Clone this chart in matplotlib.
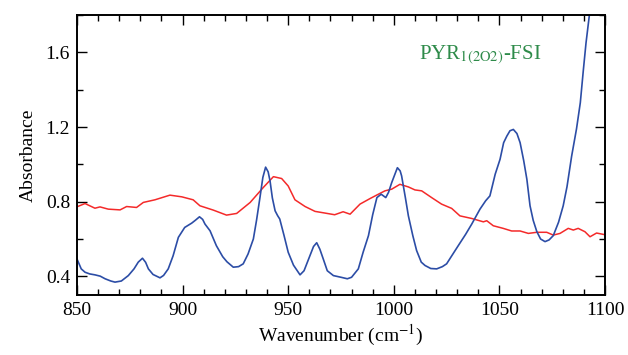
import numpy as np
import matplotlib
matplotlib.use("Agg")
import matplotlib.pyplot as plt
from matplotlib.ticker import MultipleLocator

plt.rcParams["font.family"] = ["Liberation Serif", "DejaVu Serif"]
plt.rcParams["mathtext.fontset"] = "stix"

BLUE_W = [850.0, 852.0, 853.8, 856.0, 858.5, 861.0, 863.3, 866.0, 868.0, 871.0,
          874.3, 877.0, 879.0, 881.0, 882.5, 883.8, 886.0, 889.3, 891.0, 893.2,
          895.5, 898.0, 901.0, 904.3, 906.0, 908.0, 909.5, 910.6, 913.0, 916.0,
          919.0, 921.0, 924.0, 926.5, 928.7, 931.0, 933.5, 935.0, 936.6, 938.0,
          939.3, 940.5, 941.4, 942.5, 943.8, 945.0, 946.0, 948.0, 950.0, 952.5,
          955.6, 957.5, 960.3, 962.0, 963.5, 965.0, 966.6, 968.5, 971.4, 975.0,
          978.0, 980.0, 983.2, 985.5, 988.0, 990.0, 992.0, 994.0, 996.2, 997.5,
          999.0, 1001.7, 1003.0, 1003.7, 1005.5, 1006.9, 1009.0, 1010.8, 1013.0,
          1014.8, 1017.5, 1020.3, 1023.0, 1025.0, 1028.0, 1030.5, 1034.0, 1036.9,
          1040.8, 1043.5, 1045.5, 1048.0, 1050.3, 1052.0, 1053.5, 1055.0, 1056.6,
          1058.3, 1059.8, 1061.5, 1063.0, 1064.5, 1066.0, 1067.7, 1069.5, 1071.6,
          1073.5, 1075.5, 1078.0, 1080.2, 1082.0, 1084.2, 1086.5, 1088.3, 1089.7,
          1091.0, 1092.6, 1094.0]
BLUE_A = [0.493, 0.440, 0.422, 0.413, 0.408, 0.401, 0.387, 0.375, 0.369, 0.375,
          0.404, 0.440, 0.476, 0.497, 0.475, 0.440, 0.410, 0.392, 0.405, 0.440,
          0.510, 0.609, 0.662, 0.685, 0.700, 0.719, 0.705, 0.680, 0.644, 0.564,
          0.505, 0.478, 0.449, 0.452, 0.467, 0.520, 0.600, 0.700, 0.820, 0.930,
          0.985, 0.960, 0.911, 0.820, 0.751, 0.725, 0.707, 0.620, 0.529, 0.460,
          0.408, 0.430, 0.511, 0.560, 0.580, 0.545, 0.493, 0.430, 0.404, 0.395,
          0.387, 0.395, 0.440, 0.530, 0.618, 0.730, 0.822, 0.840, 0.822, 0.850,
          0.902, 0.982, 0.965, 0.938, 0.820, 0.724, 0.618, 0.538, 0.476,
          0.458, 0.442, 0.440, 0.452, 0.467, 0.520, 0.564, 0.625, 0.680,
          0.760, 0.805, 0.831, 0.947, 1.027, 1.116, 1.151, 1.180, 1.187,
          1.165, 1.116, 1.020, 0.920, 0.778, 0.700, 0.640, 0.600, 0.586,
          0.595, 0.618, 0.690, 0.778, 0.880, 1.044, 1.190, 1.330, 1.500,
          1.650, 1.800, 1.950]

RED_W = [850.3, 853.8, 858.5, 860.9, 864.8, 870.4, 873.5, 878.2, 881.4, 886.9,
         894.0, 899.6, 905.0, 908.2, 914.5, 920.8, 925.6, 932.0, 938.2, 943.0,
         946.9, 950.0, 953.2, 958.0, 962.7, 967.4, 972.0, 976.0, 979.3, 984.0,
         988.8, 992.7, 995.8, 999.0, 1002.9, 1006.9, 1010.0, 1013.2, 1017.9,
         1022.6, 1027.4, 1031.3, 1036.9, 1042.4, 1044.0, 1047.1, 1051.8, 1055.8,
         1059.8, 1063.7, 1067.7, 1072.4, 1075.5, 1078.7, 1082.6, 1085.0, 1087.3,
         1090.5, 1092.9, 1096.0, 1100.0]
RED_A = [0.774, 0.790, 0.765, 0.772, 0.760, 0.756, 0.774, 0.769, 0.796, 0.810,
         0.835, 0.826, 0.810, 0.778, 0.755, 0.728, 0.737, 0.796, 0.876, 0.934,
         0.924, 0.884, 0.810, 0.774, 0.748, 0.739, 0.730, 0.746, 0.733, 0.787,
         0.817, 0.840, 0.858, 0.867, 0.893, 0.879, 0.863, 0.858, 0.822,
         0.787, 0.764, 0.724, 0.710, 0.692, 0.698, 0.671, 0.657, 0.643,
         0.643, 0.630, 0.636, 0.636, 0.621, 0.630, 0.657, 0.648, 0.657,
         0.639, 0.612, 0.632, 0.623]

fig = plt.figure(figsize=(6.28, 3.55), dpi=100)
ax = fig.add_axes([0.1226, 0.169, 0.8408, 0.7887])

ax.plot(RED_W, RED_A, color="#f42a2a", lw=1.1)
ax.plot(BLUE_W, BLUE_A, color="#2c4da6", lw=1.2)

ax.text(1012, 1.585, r"PYR$_{\mathrm{1(2O2)}}$-FSI", color="#2e8b4a",
        fontsize=15, ha="left", va="center")

ax.set_xlim(850, 1100)
ax.set_ylim(0.3, 1.8)
ax.xaxis.set_major_locator(MultipleLocator(50))
ax.xaxis.set_minor_locator(MultipleLocator(10))
ax.yaxis.set_minor_locator(MultipleLocator(0.2))
ax.set_yticks([0.4, 0.8, 1.2, 1.6])
ax.tick_params(which="both", direction="in", top=True, right=True,
               labelsize=14, width=1.0)
ax.tick_params(which="major", length=7, pad=5)
ax.tick_params(which="minor", length=4)
for s in ax.spines.values():
    s.set_linewidth(1.4)

ax.set_xlabel(r"Wavenumber (cm$^{-1}$)", fontsize=14, labelpad=3)
ax.set_ylabel("Absorbance", fontsize=14, labelpad=6)

fig.savefig("out.png", dpi=100)
